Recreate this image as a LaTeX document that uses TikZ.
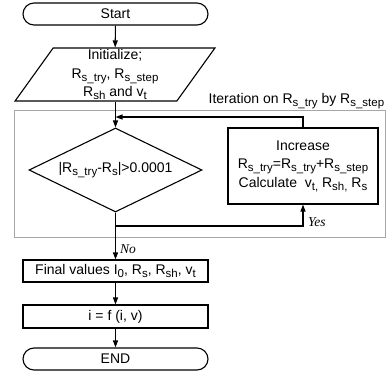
\documentclass[tikz,border=0pt]{standalone}
\usepackage{fontspec}
\setmainfont{Liberation Sans}
\newfontfamily\serifit{Liberation Serif}
\usetikzlibrary{shapes.geometric,arrows.meta}
\newcommand{\sub}[1]{\raisebox{-3pt}{\fontsize{11.5}{12}\selectfont #1}}
\begin{document}
\begin{tikzpicture}[x=1pt,y=-1pt,
  every node/.style={font=\fontsize{14}{18.5}\selectfont, inner sep=0pt},
  ln/.style={line width=1.1pt},
  arr/.style={ln,-{Triangle[length=7pt,width=5pt]}},
  term/.style={draw,ln,rounded corners=11pt,minimum width=185pt,minimum height=22pt},
  proc/.style={draw,ln,minimum width=185pt,minimum height=22pt},
  io/.style={draw,ln,trapezium,trapezium left angle=62,trapezium right angle=118,
     trapezium stretches=true,minimum width=200pt,minimum height=53pt,align=center},
  dec/.style={draw,ln,diamond,aspect=2.06,minimum width=173pt,minimum height=84pt},
  frame/.style={draw=gray!70,line width=0.8pt,minimum width=371pt,minimum height=127pt},
  lab/.style={font=\fontsize{13.5}{15}\selectfont\serifit\itshape}]
\useasboundingbox (0,0) rectangle (392,376);
\node[frame] (iter) at (199.5,173.5) {};
\node[anchor=base east] (itl) at ([xshift=-1pt,yshift=6pt]iter.north east)
  {Iteration on R\sub{s\_try} by R\sub{s\_step}};
\node[term] (start) at (115.5,14) {Start};
\node[io] (init) at (115,74.5) {Initialize;\\R\sub{s\_try}, R\sub{s\_step}\\R\sub{sh} and v\sub{t}};
\node[dec] (dia) at (115.5,170) {|R\sub{s\_try}-R\sub{s}|>0.0001};
\node[draw,ln,minimum width=150pt,minimum height=76pt,align=center] (incr) at (303,166)
  {Increase\\R\sub{s\_try}=R\sub{s\_try}+R\sub{s\_step}\\Calculate\ \ v\sub{t,} R\sub{sh,} R\sub{s}};
\node[proc] (final) at (115.5,271) {Final values I\sub{0}, R\sub{s}, R\sub{sh}, v\sub{t}};
\node[proc,minimum height=23pt] (ifv) at (115.5,316.5) {i = f (i, v)};
\node[term] (end) at (115.5,359) {END};
\coordinate (ret) at (115.5,117);
\coordinate (yc) at (303,226);
\draw[arr] (start) -- (init);
\draw[arr] (init.south -| dia.north) -- (dia.north);
\draw[arr] (incr.north) |- (ret);
\draw[arr] (dia.south) |- (yc) -- (incr.south);
\draw[arr] (dia.south) -- (final.north);
\draw[arr] (final) -- (ifv);
\draw[arr] (ifv) -- (end);
\node[lab,anchor=west] (yes) at (308,222) {Yes};
\node[lab,anchor=west] (no) at (120,249) {No};
\end{tikzpicture}
\end{document}
